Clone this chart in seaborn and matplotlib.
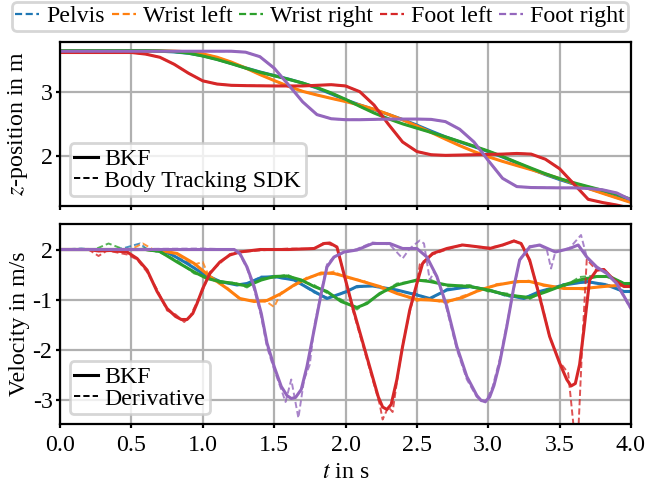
import numpy as np
import pandas as pd
import matplotlib
matplotlib.use("Agg")
import matplotlib.pyplot as plt
from matplotlib.lines import Line2D
import seaborn as sns

# ---------------- data ----------------
parts = ["Pelvis", "Wrist left", "Wrist right", "Foot left", "Foot right"]
colors = ["#1f77b4", "#ff7f0e", "#2ca02c", "#d62728", "#9467bd"]

# z-position (m)
pelvis_z_t = [0, 0.6, 0.7, 0.8, 0.9, 1.0, 1.1, 1.2, 1.3, 1.4, 1.5, 1.6, 1.7, 1.8, 1.9, 2.0, 2.1, 2.2, 2.3, 2.4, 2.5,
              2.6, 2.7, 2.8, 2.9, 3.0, 3.1, 3.2, 3.3, 3.4, 3.5, 3.6, 3.7, 3.8, 3.9, 4.0]
pelvis_z = [3.65, 3.65, 3.645, 3.634, 3.613, 3.574, 3.519, 3.453, 3.384, 3.32, 3.264, 3.208, 3.145, 3.067, 2.975,
            2.883, 2.802, 2.728, 2.653, 2.573, 2.485, 2.391, 2.301, 2.222, 2.147, 2.069, 1.984, 1.892, 1.796, 1.708,
            1.63, 1.559, 1.493, 1.426, 1.353, 1.285]
wristl_z_t = pelvis_z_t
wristl_z = [3.65, 3.65, 3.65, 3.647, 3.635, 3.604, 3.551, 3.475, 3.382, 3.279, 3.185, 3.095, 3.015, 2.958, 2.905,
            2.855, 2.800, 2.735, 2.655, 2.568, 2.470, 2.370, 2.265, 2.163, 2.070, 1.988, 1.916, 1.850, 1.786, 1.718,
            1.645, 1.567, 1.490, 1.415, 1.342, 1.270]
wristr_z_t = pelvis_z_t
wristr_z = [3.655, 3.655, 3.65, 3.64, 3.615, 3.57, 3.515, 3.45, 3.38, 3.315, 3.26, 3.205, 3.145, 3.075, 2.99,
            2.89, 2.78, 2.675, 2.585, 2.505, 2.437, 2.37, 2.30, 2.228, 2.155, 2.078, 1.993, 1.90, 1.81, 1.722,
            1.645, 1.58, 1.52, 1.462, 1.398, 1.32]
footl_z_t = [0, 0.5, 0.6, 0.7, 0.8, 0.9, 1.0, 1.1, 1.2, 1.3, 1.5, 1.7, 1.8, 1.9, 2.0, 2.1, 2.2, 2.3, 2.4, 2.5,
             2.6, 2.7, 2.9, 3.1, 3.2, 3.3, 3.4, 3.5, 3.6, 3.7, 3.8, 3.9, 4.0]
footl_z = [3.625, 3.625, 3.60, 3.55, 3.44, 3.30, 3.18, 3.13, 3.11, 3.105, 3.10, 3.10, 3.11, 3.12, 3.10, 3.01,
           2.80, 2.50, 2.22, 2.07, 2.02, 2.01, 2.02, 2.03, 2.04, 2.03, 1.95, 1.80, 1.56, 1.32, 1.27, 1.23, 1.18]
footr_z_t = [0, 1.2, 1.3, 1.4, 1.5, 1.6, 1.7, 1.8, 1.9, 2.0, 2.1, 2.3, 2.5, 2.6, 2.7, 2.8, 2.9, 3.0, 3.1, 3.2,
             3.3, 3.5, 3.6, 3.7, 3.8, 3.9, 4.0]
footr_z = [3.645, 3.645, 3.63, 3.56, 3.38, 3.12, 2.85, 2.65, 2.585, 2.57, 2.57, 2.58, 2.58, 2.575, 2.54, 2.42,
           2.22, 1.93, 1.65, 1.52, 1.505, 1.50, 1.50, 1.49, 1.47, 1.42, 1.31]

# velocity (m/s), BKF
pelvis_v_t = [0, 0.3, 0.6, 0.7, 0.77, 0.89, 1.0, 1.12, 1.24, 1.31, 1.41, 1.5, 1.64, 1.78, 1.87, 1.94, 2.0, 2.08,
              2.19, 2.36, 2.5, 2.59, 2.71, 2.87, 3.0, 3.13, 3.25, 3.36, 3.53, 3.69, 3.83, 3.95, 4.0]
pelvis_v = [0, 0, 0, -0.03, -0.08, -0.28, -0.48, -0.64, -0.71, -0.68, -0.56, -0.54, -0.61, -0.84, -0.98, -0.91,
            -0.85, -0.74, -0.73, -0.81, -0.91, -0.98, -0.81, -0.74, -0.81, -0.91, -0.98, -0.84, -0.71, -0.64,
            -0.71, -0.84, -0.84]
wristl_v_t = [0, 0.6, 0.7, 0.82, 0.94, 1.05, 1.17, 1.26, 1.36, 1.45, 1.55, 1.64, 1.73, 1.83, 1.92, 2.0, 2.12,
              2.24, 2.36, 2.5, 2.59, 2.71, 2.82, 2.94, 3.06, 3.2, 3.29, 3.39, 3.53, 3.67, 3.81, 3.95, 4.0]
wristl_v = [0, 0, -0.02, -0.08, -0.28, -0.54, -0.78, -0.98, -1.04, -1.02, -0.88, -0.71, -0.58, -0.47, -0.48,
            -0.54, -0.64, -0.74, -0.88, -1.0, -1.01, -1.04, -0.96, -0.81, -0.71, -0.64, -0.64, -0.71, -0.78,
            -0.78, -0.74, -0.71, -0.71]
wristr_v_t = [0, 0.6, 0.7, 0.82, 0.94, 1.03, 1.12, 1.22, 1.31, 1.41, 1.5, 1.59, 1.69, 1.78, 1.87, 1.97, 2.08,
              2.15, 2.24, 2.36, 2.5, 2.59, 2.71, 2.87, 3.0, 3.13, 3.29, 3.41, 3.53, 3.64, 3.76, 3.85, 3.95, 4.0]
wristr_v = [0, 0, -0.04, -0.25, -0.45, -0.58, -0.64, -0.68, -0.73, -0.61, -0.54, -0.53, -0.61, -0.74, -0.84,
            -1.04, -1.16, -1.08, -0.88, -0.71, -0.61, -0.64, -0.71, -0.74, -0.81, -0.91, -0.96, -0.84, -0.71,
            -0.61, -0.54, -0.54, -0.68, -0.68]
footl_v_t = [0, 0.2, 0.27, 0.35, 0.47, 0.54, 0.61, 0.68, 0.75, 0.81, 0.85, 0.89, 0.93, 0.96, 1.0, 1.05, 1.12,
             1.19, 1.26, 1.4, 1.6, 1.78, 1.85, 1.89, 1.94, 1.99, 2.05, 2.12, 2.19, 2.23, 2.26, 2.29, 2.32, 2.36,
             2.40, 2.45, 2.50, 2.54, 2.61, 2.71, 2.82, 2.94, 3.01, 3.10, 3.18, 3.23, 3.29, 3.36, 3.43, 3.50, 3.55,
             3.58, 3.61, 3.64, 3.67, 3.71, 3.76, 3.81, 3.88, 3.95, 4.0]
footl_v = [0, 0, -0.03, -0.02, -0.05, -0.18, -0.41, -0.84, -1.18, -1.34, -1.40, -1.40, -1.28, -1.08, -0.78,
           -0.48, -0.25, -0.11, -0.05, 0, 0, 0.02, 0.12, 0.13, 0.05, -0.5, -1.15, -1.85, -2.55, -2.95, -3.15,
           -3.2, -3.1, -2.6, -1.94, -1.21, -0.68, -0.28, -0.08, 0.02, 0.09, 0.05, 0.02, 0.09, 0.17, 0.12, -0.21,
           -0.95, -1.74, -2.27, -2.60, -2.73, -2.68, -2.3, -1.61, -0.61, -0.41, -0.40, -0.61, -0.74, -0.74]
footr_v_t = [0, 0.5, 1.0, 1.22, 1.26, 1.31, 1.36, 1.41, 1.45, 1.5, 1.55, 1.59, 1.62, 1.65, 1.69, 1.73, 1.78,
             1.83, 1.87, 1.92, 1.99, 2.08, 2.19, 2.31, 2.40, 2.5, 2.57, 2.64, 2.71, 2.78, 2.85, 2.92, 2.95, 2.98,
             3.01, 3.04, 3.08, 3.13, 3.18, 3.22, 3.29, 3.36, 3.47, 3.57, 3.63, 3.69, 3.76, 3.83, 3.90, 4.0]
footr_v = [0, 0, 0, 0, -0.08, -0.35, -0.74, -1.28, -1.87, -2.34, -2.74, -2.92, -2.98, -2.96, -2.8, -2.34,
           -1.61, -0.88, -0.35, -0.15, -0.05, -0.01, 0.12, 0.12, 0.02, 0.02, -0.15, -0.54, -1.14, -1.94, -2.54,
           -2.92, -3.02, -3.04, -2.95, -2.72, -2.27, -1.54, -0.74, -0.21, 0.05, 0.09, -0.05, 0.02, 0.09, -0.15,
           -0.35, -0.48, -0.68, -1.18]

# velocity (m/s), numerical derivative of the Body Tracking SDK
pelvis_d_t = [0, 0.15, 0.3, 0.45, 0.56, 0.62, 0.7, 0.77, 0.89, 1.0, 1.06, 1.12, 1.24, 1.31, 1.41, 1.5, 1.64,
              1.78, 1.87, 1.94, 2.0, 2.08, 2.19, 2.36, 2.5, 2.59, 2.71, 2.87, 3.0, 3.13, 3.25, 3.36, 3.53, 3.69,
              3.83, 3.95, 4.0]
pelvis_d = [0, 0.02, -0.02, 0.03, 0.12, -0.02, -0.04, -0.1, -0.25, -0.5, -0.6, -0.66, -0.69, -0.7, -0.54, -0.56,
            -0.6, -0.86, -0.96, -0.93, -0.83, -0.76, -0.71, -0.83, -0.89, -1.0, -0.79, -0.76, -0.79, -0.94, -0.96,
            -0.86, -0.69, -0.66, -0.69, -0.86, -0.83]
wristl_d_t = [0, 0.5, 0.58, 0.66, 0.74, 0.82, 0.94, 1.0, 1.05, 1.17, 1.26, 1.36, 1.45, 1.5, 1.55, 1.64, 1.73,
              1.83, 1.92, 2.0, 2.12, 2.24, 2.36, 2.5, 2.56, 2.71, 2.82, 2.94, 3.06, 3.2, 3.29, 3.39, 3.53, 3.67,
              3.81, 3.95, 4.0]
wristl_d = [0, 0.01, 0.12, -0.01, -0.03, -0.1, -0.3, -0.25, -0.58, -0.76, -1.0, -1.02, -1.05, -1.15, -0.86,
            -0.73, -0.56, -0.5, -0.44, -0.56, -0.62, -0.77, -0.86, -1.03, -0.98, -1.07, -0.93, -0.83, -0.69,
            -0.66, -0.62, -0.73, -0.76, -0.8, -0.72, -0.73, -0.69]
wristr_d_t = [0, 0.25, 0.34, 0.45, 0.6, 0.7, 0.82, 0.94, 1.03, 1.12, 1.22, 1.31, 1.41, 1.5, 1.59, 1.69, 1.78,
              1.87, 1.97, 2.08, 2.15, 2.24, 2.36, 2.5, 2.59, 2.71, 2.87, 3.0, 3.13, 3.29, 3.41, 3.53, 3.64, 3.76,
              3.85, 3.95, 4.0]
wristr_d = [0, 0.01, 0.12, 0.0, 0.02, -0.06, -0.22, -0.48, -0.55, -0.67, -0.66, -0.76, -0.58, -0.56, -0.5,
            -0.64, -0.71, -0.87, -1.0, -1.2, -1.05, -0.9, -0.68, -0.63, -0.6, -0.74, -0.71, -0.84, -0.88, -0.99,
            -0.8, -0.74, -0.55, -0.52, -0.57, -0.66, -0.7]
footl_d_t = [0, 0.2, 0.27, 0.33, 0.47, 0.54, 0.61, 0.68, 0.75, 0.81, 0.87, 0.91, 0.96, 1.0, 1.05, 1.12, 1.19,
             1.26, 1.4, 1.6, 1.78, 1.85, 1.89, 1.94, 1.99, 2.05, 2.12, 2.19, 2.24, 2.26, 2.30, 2.33, 2.36, 2.40,
             2.45, 2.50, 2.52, 2.54, 2.61, 2.71, 2.82, 2.94, 3.01, 3.10, 3.18, 3.23, 3.29, 3.36, 3.43, 3.50, 3.56,
             3.60, 3.63, 3.66, 3.69, 3.76, 3.81, 3.88, 3.95, 4.0]
footl_d = [0, 0, -0.13, -0.02, -0.1, -0.2, -0.45, -0.8, -1.22, -1.3, -1.45, -1.35, -1.05, -0.82, -0.45, -0.28,
           -0.09, -0.05, -0.02, 0.02, 0.01, 0.14, 0.1, 0.05, -0.5, -1.2, -1.9, -2.6, -3.1, -3.4, -3.15, -3.25,
           -2.65, -1.9, -1.25, -0.7, -0.3, -0.25, -0.1, 0.0, 0.1, 0.04, 0.04, 0.08, 0.18, 0.12, -0.24, -0.9,
           -1.75, -2.25, -2.47, -3.6, -3.7, -1.8, -0.2, -0.42, -0.4, -0.63, -0.72, -0.76]
footr_d_t = [0, 0.5, 1.0, 1.22, 1.26, 1.31, 1.36, 1.41, 1.45, 1.5, 1.55, 1.58, 1.62, 1.67, 1.71, 1.75, 1.78,
             1.83, 1.87, 1.92, 1.99, 2.08, 2.19, 2.31, 2.40, 2.45, 2.52, 2.55, 2.59, 2.62, 2.64, 2.71, 2.78, 2.85,
             2.92, 2.98, 3.03, 3.08, 3.13, 3.18, 3.22, 3.29, 3.36, 3.41, 3.44, 3.47, 3.57, 3.65, 3.69, 3.76, 3.83,
             3.90, 4.0]
footr_d = [0, 0.01, 0.02, 0.0, -0.1, -0.38, -0.8, -1.35, -1.95, -2.4, -2.8, -3.05, -2.6, -3.37, -2.6, -2.3,
           -1.55, -0.85, -0.3, -0.14, -0.06, 0.01, 0.14, 0.1, -0.18, 0.02, 0.18, 0.12, -0.61, -0.45, -0.55, -1.2,
           -2.0, -2.6, -2.95, -3.06, -2.75, -2.2, -1.5, -0.78, -0.2, 0.07, 0.08, 0.0, -0.38, -0.05, 0.03, 0.29,
           -0.15, -0.38, -0.45, -0.7, -1.2]

pos_series = [(pelvis_z_t, pelvis_z), (wristl_z_t, wristl_z), (wristr_z_t, wristr_z),
              (footl_z_t, footl_z), (footr_z_t, footr_z)]
vel_series = [(pelvis_v_t, pelvis_v), (wristl_v_t, wristl_v), (wristr_v_t, wristr_v),
              (footl_v_t, footl_v), (footr_v_t, footr_v)]
der_series = [(pelvis_d_t, pelvis_d), (wristl_d_t, wristl_d), (wristr_d_t, wristr_d),
              (footl_d_t, footl_d), (footr_d_t, footr_d)]

vel_ticks = [0, -1, -2, -3]
vel_ticklabels = ["2", "-1", "-2", "-3"]
pos_ticks = [2, 3]
time_ticks = [0.0, 0.5, 1.0, 1.5, 2.0, 2.5, 3.0, 3.5, 4.0]

# ---------------- style ----------------
plt.rcParams.update({
    "font.family": ["Liberation Serif", "DejaVu Serif"],
    "mathtext.fontset": "stix",
    "font.size": 8.6,
    "axes.linewidth": 0.8,
    "xtick.major.size": 1.6,
    "ytick.major.size": 1.3,
    "xtick.major.width": 0.8,
    "ytick.major.width": 0.8,
    "xtick.major.pad": 2.2,
    "ytick.major.pad": 1.4,
    "grid.color": "#b0b0b0",
    "grid.linewidth": 0.8,
})

DASH = (0, (3.2, 1.6))

fig = plt.figure(figsize=(3.24, 2.44), dpi=200)
W, H = 648, 488
ax1 = fig.add_axes([60 / W, 1 - 206 / H, 571 / W, 164 / H])
ax2 = fig.add_axes([60 / W, 1 - 424 / H, 571 / W, 200 / H], sharex=ax1)

for (t, z), c in zip(pos_series, colors):
    sns.lineplot(x=t, y=z, ax=ax1, color=c, lw=1.1, estimator=None, sort=False)
    sns.lineplot(x=t, y=z, ax=ax1, color=c, lw=0.7, linestyle=DASH, alpha=0.8, estimator=None, sort=False)

for (t, v), (td, vd), c in zip(vel_series, der_series, colors):
    sns.lineplot(x=t, y=v, ax=ax2, color=c, lw=1.1, estimator=None, sort=False)
    sns.lineplot(x=td, y=vd, ax=ax2, color=c, lw=0.7, linestyle=DASH, alpha=0.8, estimator=None, sort=False)

for ax in (ax1, ax2):
    ax.grid(True)
    ax.set_axisbelow(True)
    ax.set_xlim(0, 4)
    for s in ax.spines.values():
        s.set_color("black")

ax1.set_ylim(1.215, 3.79)
ax1.set_yticks(pos_ticks)
ax1.tick_params(labelbottom=False)
ax1.set_ylabel("$z$-position in m")

ax2.set_ylim(-3.49, 0.51)
ax2.set_yticks(vel_ticks)
ax2.set_yticklabels(vel_ticklabels)
ax2.set_xticks(time_ticks)
ax2.set_xticklabels([f"{v:.1f}" for v in time_ticks])
ax2.set_ylabel("Velocity in m/s")
ax2.set_xlabel("$t$ in s", labelpad=2.5)
ax1.yaxis.set_label_coords(-0.052, 0.5)
ax2.yaxis.set_label_coords(-0.052, 0.5)

leg_kw = dict(handlelength=1.0, handletextpad=0.25, borderpad=0.2, labelspacing=0.0,
              borderaxespad=0.4, fancybox=True, framealpha=0.8, edgecolor="#cccccc")
solid = Line2D([], [], color="black", lw=1.1)
dashed = Line2D([], [], color="black", lw=0.7, linestyle=DASH)
ax1.legend([solid, dashed], ["BKF", "Body Tracking SDK"], loc="lower left", **leg_kw)
ax2.legend([solid, dashed], ["BKF", "Derivative"], loc="lower left", **leg_kw)

handles = [Line2D([], [], color=c, lw=0.8, linestyle=DASH) for c in colors]
fig.legend(handles, parts, loc="upper center", bbox_to_anchor=(320 / W, 1 - 2 / H), ncol=5,
           handlelength=1.0, handletextpad=0.3, borderpad=0.15, columnspacing=0.28,
           borderaxespad=0, fancybox=True, framealpha=0.8, edgecolor="#cccccc")

fig.savefig("out.png", dpi=200)
